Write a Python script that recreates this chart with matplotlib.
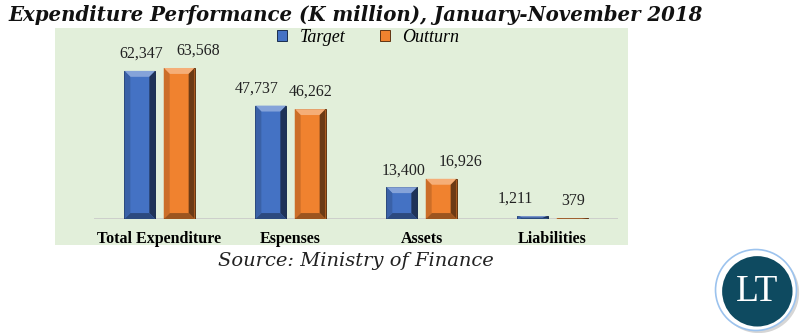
import matplotlib.pyplot as plt
import numpy as np
from matplotlib.patches import Rectangle, Polygon, Circle

# Expenditure performance, K million, Jan-Nov 2018
categories = ['Total Expenditure', 'Espenses', 'Assets', 'Liabilities']
target = [62347, 47737, 13400, 1211]
outturn = [63568, 46262, 16926, 379]

blue = '#4472C4'
orange = '#F0822F'
serif = ['DejaVu Serif']
times = ['Liberation Serif', 'DejaVu Serif']

fig = plt.figure(figsize=(8, 3.33), dpi=100)
W, H = 800, 333


def fx(px):
    return px / W


def fy(py):
    return 1 - py / H


# green panel behind the chart
fig.patches.append(Rectangle((fx(55), fy(245)), fx(628) - fx(55), fy(28) - fy(245),
                             transform=fig.transFigure, facecolor='#E2EFDA',
                             edgecolor='none', zorder=-5))

ax = fig.add_axes([fx(94), fy(219), fx(618) - fx(94), fy(28) - fy(219)])
ax.set_facecolor('none')
ax.set_zorder(2)
ax.set_xlim(-0.5, 3.5)
ax.set_ylim(0, 80400)

x = np.arange(len(categories))
w = 0.235
off = 0.15


def shade(c, f):
    c = np.array(plt.matplotlib.colors.to_rgb(c))
    if f > 0:
        return tuple(c + (1 - c) * f)
    return tuple(c * (1 + f))


def bevel_bars(xs, vals, color, label, nudges):
    bars = ax.bar(xs, vals, w, color=color, edgecolor=shade(color, -0.6),
                  linewidth=0.7, label=label, zorder=3)
    bx = 0.045
    for r, dx in zip(bars, nudges):
        x0, y0 = r.get_x(), r.get_y()
        x1, y1 = x0 + r.get_width(), y0 + r.get_height()
        by = min(2500, r.get_height() / 2)
        # lighter top face, darker right and bottom faces
        ax.add_patch(Polygon([(x0, y1), (x1, y1), (x1 - bx, y1 - by), (x0 + bx, y1 - by)],
                             closed=True, facecolor=shade(color, 0.35), edgecolor='none', zorder=4))
        ax.add_patch(Polygon([(x1, y1), (x1, y0), (x1 - bx, y0 + by), (x1 - bx, y1 - by)],
                             closed=True, facecolor=shade(color, -0.55), edgecolor='none', zorder=4))
        ax.add_patch(Polygon([(x0, y0), (x1, y0), (x1 - bx, y0 + by), (x0 + bx, y0 + by)],
                             closed=True, facecolor=shade(color, -0.35), edgecolor='none', zorder=4))
        ax.add_patch(Polygon([(x0, y1), (x0, y0), (x0 + bx, y0 + by), (x0 + bx, y1 - by)],
                             closed=True, facecolor=shade(color, -0.15), edgecolor='none', zorder=4))
        # value label, nudged sideways (in pixels) so neighbours don't collide
        ax.annotate(f'{r.get_height():,.0f}', (r.get_x() + r.get_width() / 2, y1),
                    xytext=(dx * 0.72, 17 * 0.72), textcoords='offset points',
                    ha='center', va='center', fontsize=11.5, family=times, color='#222222')
    return bars


bevel_bars(x - off, target, blue, 'Target', [1, -14, 2, -18])
bevel_bars(x + off, outturn, orange, 'Outturn', [19, 0, 19, 1])

ax.axhline(0, color='#c9c9c9', linewidth=1.2, zorder=2)
for s in ax.spines.values():
    s.set_visible(False)
ax.set_yticks([])
ax.set_xticks(x)
ax.set_xticklabels(categories, fontsize=11.5, fontweight='bold', family=times)
ax.tick_params(axis='x', length=0, pad=8.5)

leg = ax.legend(loc='center', bbox_to_anchor=(0.523, 0.95), ncol=2, frameon=False,
                handlelength=0.55, handleheight=0.55, columnspacing=1.9, handletextpad=0.7,
                prop={'family': times, 'style': 'italic', 'size': 13})

fig.text(fx(8), fy(15), 'Expenditure Performance (K million), January-November 2018',
         ha='left', va='center', fontsize=14.2, fontweight='bold', fontstyle='italic',
         family=serif, color='#111111')
fig.text(fx(356), fy(261), 'Source: Ministry of Finance', ha='center', va='center',
         fontsize=14, fontstyle='italic', family=serif, color='#222222')

# round LT badge in the corner
ax_logo = fig.add_axes([fx(712), fy(334), fx(800) - fx(712), fy(246) - fy(334)])
ax_logo.set_xlim(-1, 1)
ax_logo.set_ylim(-1, 1)
ax_logo.set_aspect('equal')
ax_logo.axis('off')
ax_logo.add_patch(Circle((0.06, -0.06), 0.92, facecolor='#bbbbbb', edgecolor='none', alpha=0.6))
ax_logo.add_patch(Circle((0, 0), 0.92, facecolor='white', edgecolor='#9cc3ee', linewidth=1.2))
ax_logo.add_patch(Circle((0.03, -0.03), 0.8, facecolor='#0E4A60', edgecolor='none'))
ax_logo.text(0.03, -0.03, 'LT', ha='center', va='center', color='white', fontsize=27,
             family=['Liberation Serif', 'DejaVu Serif'])

fig.savefig('out.png', dpi=100)
